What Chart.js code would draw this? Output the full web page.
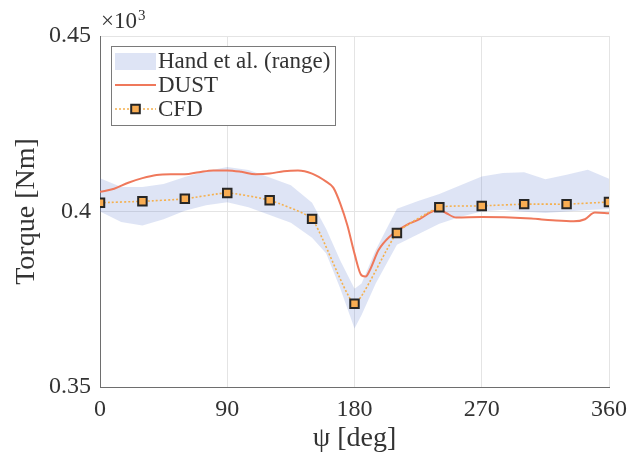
<!DOCTYPE html>
<html>
<head>
<meta charset="utf-8">
<script src="https://cdn.jsdelivr.net/npm/chart.js@4/dist/chart.umd.min.js"></script>
<style>
  html, body { margin: 0; padding: 0; background: #ffffff; }
  #wrap { width: 628px; height: 462px; }
</style>
</head>
<body>
<div id="wrap"><canvas id="torque" width="628" height="462"></canvas></div>
<script>
// Rotor torque over one revolution (values in kNm, axis shows x10^3)
const cfdAngle  = [0, 30, 60, 90, 120, 150, 180, 210, 240, 270, 300, 330, 360];
const cfdTorque = [0.4025, 0.4029, 0.4036, 0.4053, 0.4032, 0.3979, 0.3737, 0.3939, 0.4012, 0.4016, 0.4021, 0.4021, 0.4027];

const dustAngle  = [0, 10, 20, 30, 40, 50, 60, 70, 80, 90, 100, 110, 120, 130, 140, 150, 160, 165, 170, 175, 180, 185, 188, 191, 197, 205, 217, 226, 233, 240, 245, 252, 270, 290, 305, 320, 335, 343, 350, 360];
const dustTorque = [0.4056, 0.4065, 0.4082, 0.4095, 0.4104, 0.4106, 0.4106, 0.4112, 0.4117, 0.4117, 0.4113, 0.4106, 0.4108, 0.4115, 0.4117, 0.4108, 0.4085, 0.4068, 0.4022, 0.3960, 0.3880, 0.3818, 0.3815, 0.3834, 0.3890, 0.3929, 0.3962, 0.3978, 0.3996, 0.4006, 0.3995, 0.3983, 0.3984, 0.3983, 0.3980, 0.3975, 0.3972, 0.3978, 0.3997, 0.3995];

const handAngle = [0, 15, 30, 45, 60, 75, 90, 105, 120, 135, 150, 160, 170, 180, 185, 195, 210, 225, 240, 255, 270, 285, 300, 315, 330, 345, 360];
const handLower = [0.4000, 0.3970, 0.3960, 0.3978, 0.4002, 0.4018, 0.4026, 0.4012, 0.3990, 0.3968, 0.3925, 0.3880, 0.3780, 0.3667, 0.3705, 0.3795, 0.3905, 0.3935, 0.3965, 0.3985, 0.4000, 0.4005, 0.3999, 0.3996, 0.4000, 0.4004, 0.4007];
const handUpper = [0.4095, 0.4070, 0.4070, 0.4078, 0.4098, 0.4115, 0.4127, 0.4118, 0.4097, 0.4075, 0.4025, 0.3950, 0.3860, 0.3780, 0.3795, 0.3890, 0.4008, 0.4030, 0.4050, 0.4075, 0.4100, 0.4110, 0.4112, 0.4092, 0.4105, 0.4119, 0.4093];

const xTicks = [0, 90, 180, 270, 360];
const yTicks = [0.35, 0.40, 0.45];

const seriesNames = ['Hand et al. (range)', 'DUST', 'CFD'];

const SERIF = "'Liberation Serif', 'DejaVu Serif', serif";
const TEXT = '#333333';
const BAND = 'rgba(80, 110, 200, 0.19)';
const DUST_COLOR = '#ef785b';
const CFD_LINE = '#f5b04e';
const CFD_FILL = '#f9ad52';
const CFD_EDGE = '#262626';

const pts = (xs, ys) => xs.map((x, i) => ({ x: x, y: ys[i] }));

// Legend box drawn inside the plot area, top-left, plus the axis multiplier
const insideLegend = {
  id: 'insideLegend',
  afterDraw(chart) {
    const ctx = chart.ctx;
    const x0 = 111, y0 = 46, w = 224, h = 79;
    ctx.save();
    ctx.fillStyle = '#ffffff';
    ctx.fillRect(x0, y0, w, h);
    ctx.strokeStyle = '#7a7a7a';
    ctx.lineWidth = 1;
    ctx.strokeRect(x0 + 0.5, y0 + 0.5, w, h);

    const sx = x0 + 4, sw = 41, tx = x0 + 47;
    const rows = [y0 + 15, y0 + 39, y0 + 63];

    // band patch
    ctx.fillStyle = BAND;
    ctx.fillRect(sx, rows[0] - 8, sw, 17);
    // DUST line
    ctx.strokeStyle = DUST_COLOR;
    ctx.lineWidth = 2;
    ctx.beginPath();
    ctx.moveTo(sx, rows[1]);
    ctx.lineTo(sx + sw, rows[1]);
    ctx.stroke();
    // CFD dotted line with marker
    ctx.strokeStyle = CFD_LINE;
    ctx.lineWidth = 1.6;
    ctx.setLineDash([2, 2]);
    ctx.beginPath();
    ctx.moveTo(sx, rows[2]);
    ctx.lineTo(sx + sw, rows[2]);
    ctx.stroke();
    ctx.setLineDash([]);
    const m = 4.3;
    ctx.fillStyle = CFD_FILL;
    ctx.strokeStyle = CFD_EDGE;
    ctx.lineWidth = 2;
    ctx.beginPath();
    ctx.rect(sx + sw / 2 - m, rows[2] - m, 2 * m, 2 * m);
    ctx.fill();
    ctx.stroke();

    ctx.fillStyle = TEXT;
    ctx.font = '23px ' + SERIF;
    ctx.textBaseline = 'middle';
    ctx.textAlign = 'left';
    seriesNames.forEach((name, i) => ctx.fillText(name, tx, rows[i] + 1));

    // axis multiplier
    ctx.font = '23px ' + SERIF;
    ctx.textBaseline = 'alphabetic';
    ctx.fillText('\u00d710', 101, 28);
    const wx = ctx.measureText('\u00d710').width;
    ctx.font = '15px ' + SERIF;
    ctx.fillText('3', 101 + wx + 1, 20);
    ctx.restore();
  }
};

new Chart(document.getElementById('torque'), {
  type: 'line',
  data: {
    datasets: [
      {
        label: 'Hand lower',
        data: pts(handAngle, handLower),
        borderWidth: 0,
        pointRadius: 0,
        fill: false,
        order: 4
      },
      {
        label: seriesNames[0],
        data: pts(handAngle, handUpper),
        borderWidth: 0,
        pointRadius: 0,
        backgroundColor: BAND,
        fill: '-1',
        order: 3
      },
      {
        label: seriesNames[1],
        data: pts(dustAngle, dustTorque),
        borderColor: DUST_COLOR,
        borderWidth: 2,
        pointRadius: 0,
        cubicInterpolationMode: 'monotone',
        fill: false,
        order: 2
      },
      {
        label: seriesNames[2],
        data: pts(cfdAngle, cfdTorque),
        borderColor: CFD_LINE,
        borderWidth: 1.6,
        borderDash: [2, 2],
        pointStyle: 'rect',
        pointRadius: 6,
        pointBorderWidth: 2,
        pointBackgroundColor: CFD_FILL,
        pointBorderColor: CFD_EDGE,
        tension: 0.15,
        fill: false,
        order: 1
      }
    ]
  },
  options: {
    responsive: false,
    animation: false,
    devicePixelRatio: 1,
    layout: { padding: { top: 36, right: 19, left: 0, bottom: 0 } },
    plugins: {
      legend: { display: false },
      tooltip: { enabled: false }
    },
    scales: {
      x: {
        type: 'linear',
        min: 0,
        max: 360,
        afterBuildTicks: s => { s.ticks = xTicks.map(v => ({ value: v })); },
        afterFit: s => { s.height = 75; s.paddingLeft = 0; s.paddingRight = 0; },
        grid: { color: '#e4e4e4', lineWidth: 1, drawTicks: false },
        border: { display: true, color: '#6e6e6e', width: 1 },
        ticks: {
          color: TEXT,
          padding: 8,
          maxRotation: 0,
          font: { family: SERIF, size: 24 },
          callback: v => String(v)
        },
        title: {
          display: true,
          text: '\u03c8 [deg]',
          color: TEXT,
          font: { family: SERIF, size: 28 },
          padding: { top: 0, bottom: 7 }
        }
      },
      y: {
        type: 'linear',
        min: 0.35,
        max: 0.45,
        afterBuildTicks: s => { s.ticks = yTicks.map(v => ({ value: v })); },
        afterFit: s => { s.width = 100; s.paddingTop = 0; s.paddingBottom = 0; },
        grid: { color: '#e4e4e4', lineWidth: 1, drawTicks: false },
        border: { display: true, color: '#6e6e6e', width: 1 },
        ticks: {
          color: TEXT,
          padding: 9,
          font: { family: SERIF, size: 24 },
          callback: v => String(Math.round(v * 100) / 100)
        },
        title: {
          display: true,
          text: 'Torque [Nm]',
          color: TEXT,
          font: { family: SERIF, size: 28 },
          padding: { top: 10, bottom: 0 }
        }
      }
    }
  },
  plugins: [insideLegend]
});
</script>
</body>
</html>
